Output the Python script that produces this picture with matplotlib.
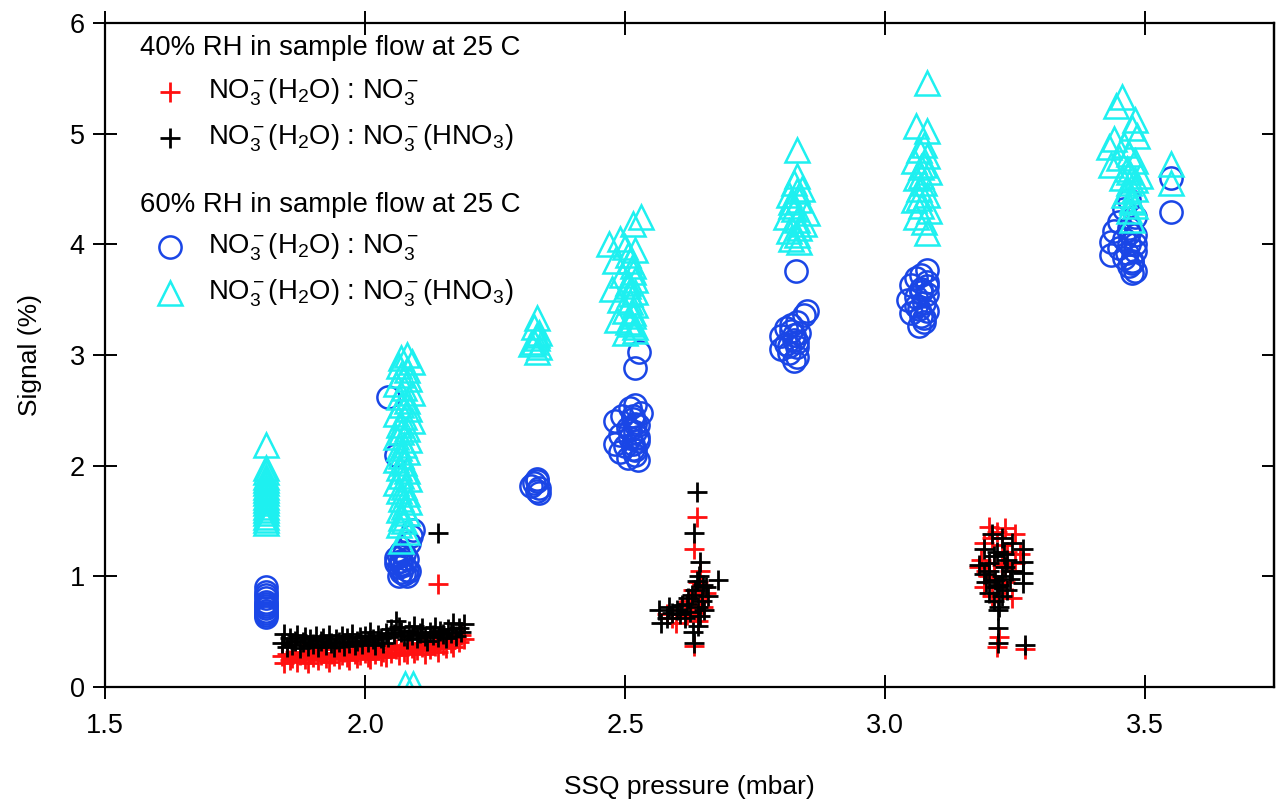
import matplotlib
matplotlib.use("Agg")
import matplotlib.pyplot as plt

plt.rcParams['font.family'] = ['Liberation Sans', 'DejaVu Sans']
plt.rcParams['mathtext.fontset'] = 'custom'
plt.rcParams['mathtext.rm'] = 'Liberation Sans'
plt.rcParams['mathtext.it'] = 'Liberation Sans:italic'
plt.rcParams['mathtext.bf'] = 'Liberation Sans:bold'

# ================= data =================
# ---- 40% RH: NO3-(H2O) : NO3-  (red crosses) ----
red_low_x = [1.84, 1.845, 1.85, 1.855, 1.86, 1.865, 1.87, 1.875, 1.88, 1.885, 1.89, 1.895,
             1.90, 1.905, 1.91, 1.915, 1.92, 1.925, 1.93, 1.935, 1.94, 1.945, 1.95, 1.955,
             1.96, 1.965, 1.97, 1.975, 1.98, 1.985, 1.99, 1.995, 2.00, 2.005, 2.01, 2.015,
             2.02, 2.025, 2.03, 2.035, 2.04, 2.045, 2.05, 2.055, 2.06, 2.065, 2.07, 2.075,
             2.08, 2.085, 2.09, 2.095, 2.10, 2.105, 2.11, 2.115, 2.12, 2.125, 2.13, 2.135,
             2.14, 2.145, 2.15, 2.155, 2.16, 2.165, 2.17, 2.175, 2.18, 2.185, 2.19, 2.14]
red_low_y = [0.28, 0.22, 0.30, 0.24, 0.26, 0.32, 0.23, 0.29, 0.31, 0.25, 0.22, 0.30,
             0.27, 0.33, 0.24, 0.29, 0.31, 0.26, 0.23, 0.30, 0.28, 0.34, 0.25, 0.29,
             0.32, 0.27, 0.24, 0.33, 0.30, 0.26, 0.29, 0.35, 0.31, 0.27, 0.25, 0.33,
             0.30, 0.36, 0.28, 0.32, 0.27, 0.35, 0.31, 0.38, 0.34, 0.29, 0.37, 0.32,
             0.30, 0.39, 0.35, 0.31, 0.33, 0.40, 0.36, 0.30, 0.38, 0.34, 0.41, 0.37,
             0.32, 0.42, 0.38, 0.35, 0.44, 0.40, 0.36, 0.45, 0.41, 0.47, 0.43, 0.93]
red_e_x = [2.638, 2.632, 2.645, 2.640, 2.630, 2.645, 2.625, 2.650, 2.635, 2.620, 2.640,
           2.605, 2.590, 2.580, 2.632, 2.655, 2.628, 2.648, 2.615, 2.598]
red_e_y = [1.54, 1.25, 1.05, 0.95, 0.88, 0.82, 0.78, 0.72, 0.68, 0.65, 0.60,
           0.70, 0.62, 0.66, 0.37, 0.85, 0.74, 0.90, 0.64, 0.58]
red_h_x = [3.200, 3.230, 3.215, 3.250, 3.190, 3.225, 3.260, 3.185, 3.210, 3.240, 3.200,
           3.230, 3.190, 3.215, 3.245, 3.205, 3.220, 3.215, 3.270, 3.180, 3.235, 3.195,
           3.225, 3.210, 3.250, 3.205]
red_h_y = [1.45, 1.44, 1.40, 1.38, 1.30, 1.28, 1.20, 1.15, 1.12, 1.05, 1.00,
           0.95, 0.90, 0.85, 0.80, 0.82, 0.45, 0.36, 0.34, 1.08, 1.22, 1.05,
           1.10, 0.98, 1.12, 1.35]

# ---- 40% RH: NO3-(H2O) : NO3-(HNO3)  (black crosses) ----
blk_low_x = [1.84, 1.845, 1.85, 1.855, 1.86, 1.865, 1.87, 1.875, 1.88, 1.885, 1.89, 1.895,
             1.90, 1.905, 1.91, 1.915, 1.92, 1.925, 1.93, 1.935, 1.94, 1.945, 1.95, 1.955,
             1.96, 1.965, 1.97, 1.975, 1.98, 1.985, 1.99, 1.995, 2.00, 2.005, 2.01, 2.015,
             2.02, 2.025, 2.03, 2.035, 2.04, 2.045, 2.05, 2.055, 2.06, 2.065, 2.07, 2.075,
             2.08, 2.085, 2.09, 2.095, 2.10, 2.105, 2.11, 2.115, 2.12, 2.125, 2.13, 2.135,
             2.14, 2.145, 2.15, 2.155, 2.16, 2.165, 2.17, 2.175, 2.18, 2.185, 2.19, 2.14]
blk_low_y = [0.40, 0.48, 0.36, 0.44, 0.38, 0.42, 0.47, 0.35, 0.41, 0.45, 0.37, 0.43,
             0.39, 0.46, 0.36, 0.42, 0.44, 0.38, 0.47, 0.40, 0.36, 0.43, 0.41, 0.46,
             0.37, 0.44, 0.40, 0.48, 0.38, 0.42, 0.45, 0.39, 0.46, 0.41, 0.50, 0.43,
             0.38, 0.47, 0.44, 0.40, 0.49, 0.45, 0.52, 0.48, 0.60, 0.54, 0.50, 0.46,
             0.43, 0.51, 0.47, 0.55, 0.44, 0.49, 0.53, 0.46, 0.42, 0.50, 0.47, 0.54,
             0.45, 0.51, 0.48, 0.44, 0.52, 0.49, 0.58, 0.46, 0.53, 0.50, 0.57, 1.39]
blk_e_x = [2.638, 2.632, 2.645, 2.642, 2.650, 2.635, 2.628, 2.648, 2.620, 2.640,
           2.625, 2.610, 2.600, 2.590, 2.580, 2.570, 2.565, 2.615, 2.640, 2.630,
           2.632, 2.679, 2.655, 2.660, 2.645, 2.638, 2.622, 2.652, 2.605, 2.585]
blk_e_y = [1.76, 1.39, 1.13, 1.00, 0.92, 0.88, 0.83, 0.78, 0.75, 0.72,
           0.68, 0.74, 0.70, 0.67, 0.62, 0.58, 0.70, 0.62, 0.55, 0.50,
           0.40, 0.97, 0.90, 0.82, 0.64, 0.96, 0.80, 0.70, 0.66, 0.72]
blk_h_x = [3.205, 3.225, 3.190, 3.215, 3.245, 3.265, 3.265, 3.265, 3.265, 3.180,
           3.200, 3.225, 3.240, 3.195, 3.215, 3.235, 3.200, 3.225, 3.210, 3.220,
           3.218, 3.218, 3.218, 3.270, 3.235, 3.210, 3.230, 3.200, 3.220, 3.245,
           3.190, 3.212, 3.228]
blk_h_y = [1.38, 1.35, 1.25, 1.22, 1.30, 1.25, 1.13, 1.03, 0.94, 1.10,
           1.05, 1.00, 0.98, 0.95, 0.90, 0.88, 0.85, 0.82, 0.78, 0.72,
           0.70, 0.53, 0.40, 0.38, 1.15, 1.18, 1.08, 1.12, 0.92, 1.05,
           1.02, 0.97, 1.20]

# ---- 60% RH: NO3-(H2O) : NO3-  (blue circles) ----
blu_x = [1.81, 1.81, 1.81, 1.81, 1.81, 1.81, 1.81, 1.81, 1.81, 1.81, 1.81, 1.81,
         2.045, 2.06, 2.092, 2.088, 2.085, 2.07, 2.075, 2.065, 2.08, 2.07, 2.06, 2.075,
         2.065, 2.08, 2.07, 2.075, 2.065, 2.08, 2.07, 2.085, 2.06,
         2.33, 2.325, 2.335, 2.33, 2.32, 2.335, 2.33,
         2.527, 2.52, 2.52, 2.51, 2.53, 2.495, 2.515, 2.48, 2.525, 2.505, 2.52,
         2.49, 2.51, 2.525, 2.48, 2.50, 2.515, 2.49, 2.52, 2.505, 2.525, 2.515,
         2.52, 2.51, 2.525, 2.515, 2.52,
         2.828, 2.85, 2.845, 2.83, 2.82, 2.81, 2.835, 2.80, 2.825, 2.81, 2.83,
         2.80, 2.815, 2.83, 2.825, 2.82, 2.83, 2.815, 2.825,
         3.08, 3.07, 3.06, 3.08, 3.05, 3.07, 3.08, 3.06, 3.045, 3.075, 3.06,
         3.08, 3.05, 3.07, 3.075, 3.065, 3.07, 3.08, 3.065, 3.075,
         3.47, 3.46, 3.48, 3.45, 3.47, 3.44, 3.48, 3.46, 3.435, 3.47, 3.45,
         3.48, 3.435, 3.46, 3.475, 3.47, 3.48, 3.475, 3.47, 3.48, 3.465, 3.475,
         3.55, 3.55]
blu_y = [0.63, 0.65, 0.67, 0.69, 0.71, 0.73, 0.75, 0.77, 0.80, 0.83, 0.86, 0.90,
         2.62, 2.10, 1.42, 1.36, 1.30, 1.22, 1.20, 1.18, 1.16, 1.14, 1.12, 1.10,
         1.08, 1.06, 1.04, 1.02, 1.00, 1.00, 1.11, 1.05, 1.17,
         1.88, 1.84, 1.80, 1.77, 1.82, 1.75, 1.86,
         3.03, 2.88, 2.55, 2.52, 2.48, 2.45, 2.42, 2.40, 2.37, 2.34, 2.30,
         2.28, 2.25, 2.22, 2.20, 2.18, 2.15, 2.12, 2.10, 2.07, 2.05, 2.45,
         2.38, 2.32, 2.26, 2.20, 2.14,
         3.76, 3.40, 3.36, 3.30, 3.27, 3.24, 3.20, 3.17, 3.14, 3.10, 3.07,
         3.05, 3.02, 2.98, 2.95, 3.22, 3.12, 3.08, 3.18,
         3.77, 3.72, 3.70, 3.66, 3.63, 3.60, 3.55, 3.52, 3.50, 3.47, 3.44,
         3.40, 3.38, 3.35, 3.30, 3.26, 3.57, 3.62, 3.42, 3.33,
         4.40, 4.32, 4.25, 4.20, 4.15, 4.12, 4.08, 4.05, 4.02, 4.00, 3.97,
         3.94, 3.90, 3.88, 3.85, 3.80, 3.76, 3.74, 4.10, 4.00, 3.92, 3.83,
         4.60, 4.29]

# ---- 60% RH: NO3-(H2O) : NO3-(HNO3)  (cyan triangles) ----
cyn_x = [1.81, 1.81, 1.81, 1.81, 1.81, 1.81, 1.81, 1.81, 1.81, 1.81, 1.81, 1.81,
         1.81, 1.81, 1.81, 1.81, 1.81, 1.81,
         2.08, 2.07, 2.09, 2.065, 2.08, 2.07, 2.085, 2.06, 2.075, 2.09, 2.065,
         2.08, 2.07, 2.085, 2.06, 2.075, 2.09, 2.065, 2.08, 2.07, 2.06, 2.085,
         2.075, 2.065, 2.08, 2.07, 2.06, 2.075, 2.065, 2.08, 2.07, 2.085, 2.06,
         2.075, 2.065, 2.08, 2.07, 2.085, 2.075, 2.065, 2.08, 2.07, 2.075, 2.065,
         2.08, 2.07, 2.077, 2.092,
         2.33, 2.325, 2.335, 2.33, 2.32, 2.335, 2.33, 2.325, 2.33,
         2.53, 2.515, 2.49, 2.47, 2.50, 2.52, 2.505, 2.48, 2.515, 2.495, 2.52,
         2.475, 2.51, 2.49, 2.52, 2.50, 2.515, 2.485, 2.51, 2.52, 2.50, 2.505,
         2.515, 2.505, 2.52, 2.51, 2.515, 2.505, 2.52, 2.51,
         2.83, 2.83, 2.825, 2.84, 2.815, 2.835, 2.82, 2.85, 2.81, 2.83, 2.845,
         2.815, 2.83, 2.82, 2.835, 2.825, 2.83, 2.835, 2.82,
         3.08, 3.06, 3.08, 3.075, 3.065, 3.08, 3.055, 3.07, 3.085, 3.06, 3.075,
         3.065, 3.08, 3.055, 3.07, 3.085, 3.06, 3.075, 3.08, 3.07, 3.075, 3.065,
         3.455, 3.445, 3.48, 3.475, 3.44, 3.485, 3.43, 3.46, 3.47, 3.45, 3.435,
         3.48, 3.465, 3.49, 3.455, 3.47, 3.48, 3.46, 3.475, 3.48, 3.47, 3.475,
         3.47, 3.48, 3.465, 3.475,
         3.55, 3.55]
cyn_y = [1.48, 1.51, 1.54, 1.57, 1.60, 1.63, 1.66, 1.69, 1.72, 1.75, 1.78, 1.81,
         1.84, 1.87, 1.90, 1.94, 1.98, 2.19,
         3.00, 2.97, 2.94, 2.90, 2.86, 2.82, 2.78, 2.74, 2.70, 2.66, 2.62,
         2.58, 2.55, 2.51, 2.47, 2.44, 2.40, 2.37, 2.33, 2.30, 2.26, 2.23,
         2.19, 2.16, 2.12, 2.09, 2.05, 2.02, 1.98, 1.95, 1.91, 1.88, 1.84,
         1.81, 1.77, 1.74, 1.70, 1.67, 1.63, 1.60, 1.57, 1.53, 1.50, 1.46,
         1.40, 1.32, 0.03, 0.03,
         3.33, 3.25, 3.20, 3.15, 3.10, 3.07, 3.03, 3.12, 3.18,
         4.25, 4.18, 4.05, 4.00, 3.98, 3.95, 3.90, 3.85, 3.80, 3.72, 3.68,
         3.60, 3.55, 3.50, 3.45, 3.40, 3.35, 3.32, 3.28, 3.22, 3.20, 3.62,
         3.75, 3.65, 3.57, 3.48, 3.38, 3.30, 3.25, 3.85,
         4.85, 4.62, 4.55, 4.50, 4.45, 4.40, 4.35, 4.28, 4.25, 4.22, 4.18,
         4.12, 4.08, 4.05, 4.02, 4.32, 4.48, 4.15, 4.38,
         5.46, 5.07, 5.02, 4.90, 4.85, 4.80, 4.75, 4.70, 4.65, 4.60, 4.55,
         4.50, 4.45, 4.40, 4.35, 4.30, 4.25, 4.20, 4.10, 4.62, 4.72, 4.42,
         5.33, 5.25, 5.12, 5.05, 4.95, 4.98, 4.88, 4.90, 4.82, 4.78, 4.72,
         4.75, 4.68, 4.62, 4.60, 4.55, 4.50, 4.45, 4.40, 4.35, 4.30, 4.22,
         4.65, 4.58, 4.48, 4.38,
         4.73, 4.55]

red_x = red_low_x + red_e_x + red_h_x
red_y = red_low_y + red_e_y + red_h_y
blk_x = blk_low_x + blk_e_x + blk_h_x
blk_y = blk_low_y + blk_e_y + blk_h_y

x_ticks = [1.5, 2.0, 2.5, 3.0, 3.5]
x_tick_labels = ["1.5", "2.0", "2.5", "3.0", "3.5"]
y_ticks = [0, 1, 2, 3, 4, 5, 6]

RED = '#ff1010'
BLACK = '#000000'
BLUE = '#1a46e6'
CYAN = '#1ef0f0'

label_a = r'NO$_3^-$(H$_2$O) : NO$_3^-$'
label_b = r'NO$_3^-$(H$_2$O) : NO$_3^-$(HNO$_3$)'

# ================= figure =================
fig = plt.figure(figsize=(12.78, 8.01), dpi=100)
ax = fig.add_axes([105/1278, 1-687/801, 1169/1278, 664/801])

ms_p, ms_o, ms_t = 15, 16, 17
mew_p, mew_o = 2.0, 1.8
ax.plot(red_x, red_y, linestyle='none', marker='+', ms=ms_p, mew=mew_p, color=RED)
ax.plot(blk_x, blk_y, linestyle='none', marker='+', ms=ms_p, mew=mew_p, color=BLACK)
ax.plot(blu_x, blu_y, linestyle='none', marker='o', ms=ms_o, mew=mew_o, mfc='none', color=BLUE)
ax.plot(cyn_x, cyn_y, linestyle='none', marker='^', ms=ms_t, mew=mew_o, mfc='none', color=CYAN)

ax.set_xlim(1.5, 3.748)
ax.set_ylim(0, 6)
ax.set_xticks(x_ticks)
ax.set_xticklabels(x_tick_labels)
ax.set_yticks(y_ticks)

for s in ax.spines.values():
    s.set_linewidth(1.6)

ax.tick_params(axis='both', which='major', direction='inout', length=17, width=1.4,
               labelsize=19.5, pad=6, top=True, right=False)
ax.tick_params(axis='x', pad=10)
ax2 = ax.twinx()
ax2.set_ylim(0, 6)
ax2.set_yticks([1, 2, 3, 4, 5])
ax2.tick_params(axis='y', direction='in', length=9, width=1.4, labelright=False)
ax2.spines['right'].set_linewidth(1.6)
for s in ['left', 'top', 'bottom']:
    ax2.spines[s].set_visible(False)

ax.set_xlabel('SSQ pressure (mbar)', fontsize=19, labelpad=26)
ax.set_ylabel('Signal (%)', fontsize=19, labelpad=20)

# ================= custom legend =================
fs = 19.8
tr = ax.transAxes
ax.text(0.030, 0.962, '40% RH in sample flow at 25 C', transform=tr, fontsize=fs, va='center', ha='left')
ax.plot([0.0556], [0.896], transform=tr, marker='+', ms=ms_p, mew=mew_p, color=RED, clip_on=False)
ax.text(0.088, 0.896, label_a, transform=tr, fontsize=fs, va='center', ha='left')
ax.plot([0.0556], [0.827], transform=tr, marker='+', ms=ms_p, mew=mew_p, color=BLACK, clip_on=False)
ax.text(0.088, 0.827, label_b, transform=tr, fontsize=fs, va='center', ha='left')
ax.text(0.030, 0.726, '60% RH in sample flow at 25 C', transform=tr, fontsize=fs, va='center', ha='left')
ax.plot([0.0556], [0.663], transform=tr, marker='o', ms=ms_o, mew=mew_o, mfc='none', color=BLUE, clip_on=False)
ax.text(0.088, 0.663, label_a, transform=tr, fontsize=fs, va='center', ha='left')
ax.plot([0.0556], [0.593], transform=tr, marker='^', ms=ms_t, mew=mew_o, mfc='none', color=CYAN, clip_on=False)
ax.text(0.088, 0.593, label_b, transform=tr, fontsize=fs, va='center', ha='left')

fig.savefig('out.png', dpi=100)
